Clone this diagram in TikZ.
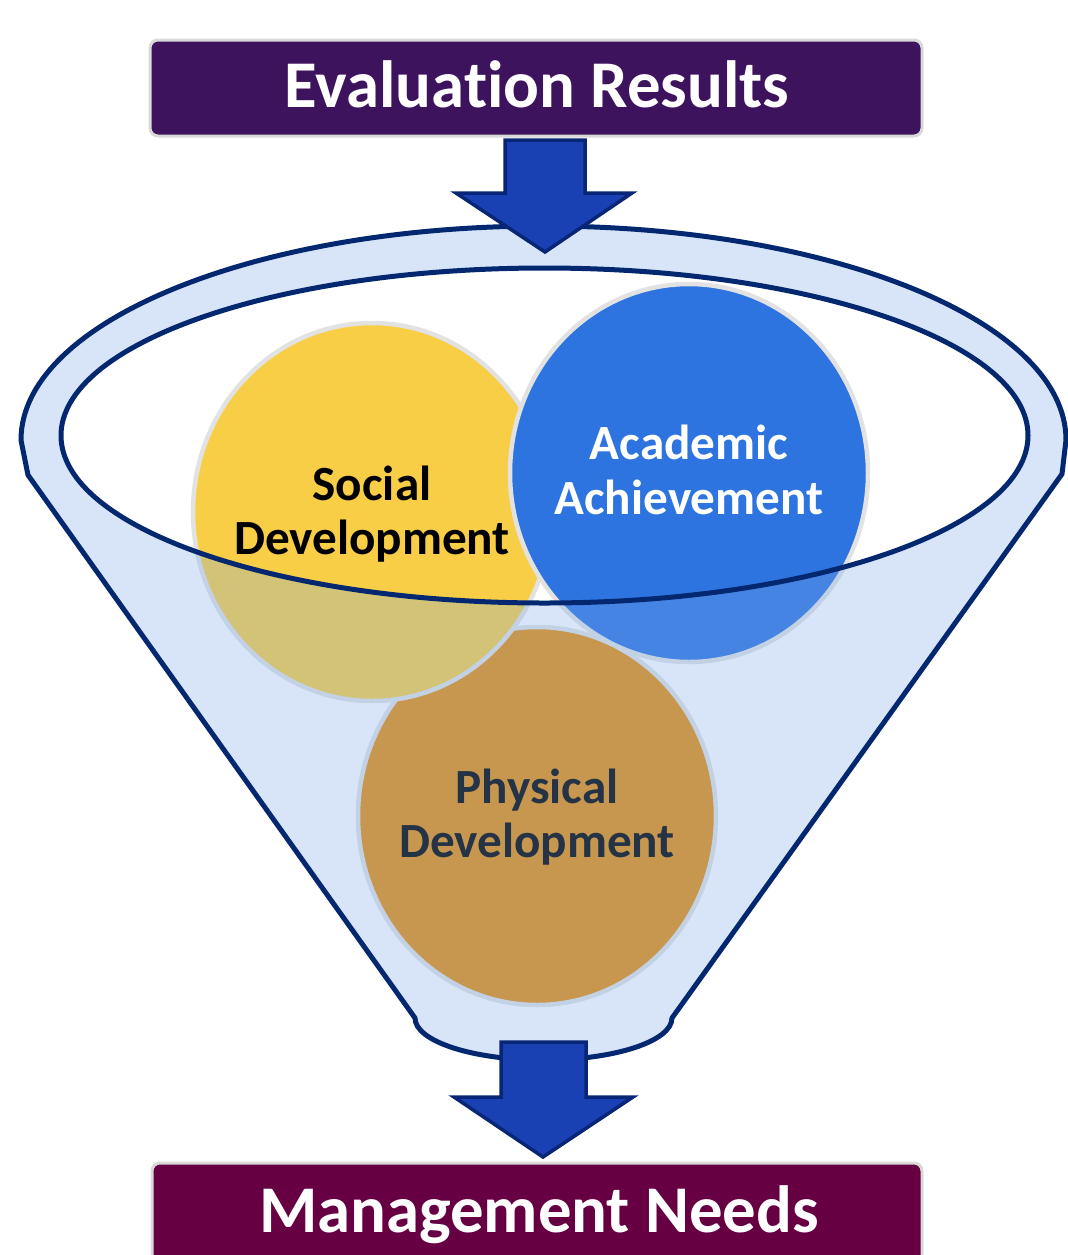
\documentclass[tikz,border=0pt]{standalone}
\usepackage{fontspec}
\setmainfont{Carlito}[Ligatures=NoCommon]
\usepackage{tikz}
\definecolor{resultsPurple}{RGB}{62,19,94}
\definecolor{needsWine}{RGB}{102,0,66}
\definecolor{rimNavy}{RGB}{4,40,112}
\definecolor{arrowBlue}{RGB}{25,65,180}
\definecolor{arrowEdge}{RGB}{8,38,118}
\definecolor{glassBlue}{RGB}{125,170,235}
\definecolor{socialYellow}{RGB}{247,206,70}
\definecolor{academicBlue}{RGB}{45,116,224}
\definecolor{physicalOrange}{RGB}{232,144,12}
\definecolor{bubbleEdge}{RGB}{226,226,226}

\begin{document}
\begin{tikzpicture}[x=0.02cm, y=-0.02cm,
	titlebox/.style={rounded corners=0.16cm, draw=black!15, line width=0.06cm},
	titletext/.style={text=white, font=\bfseries\fontsize{38}{40}\selectfont, anchor=base},
	bubble/.style={draw=bubbleEdge, line width=0.09cm},
	bubbletext/.style={align=center, font=\bfseries\fontsize{28}{31}\selectfont},
	blockarrow/.style={fill=arrowBlue, draw=arrowEdge, line width=0.07cm, line join=miter},
	rim/.style={draw=rimNavy, line width=0.1cm, line join=round}]
	\useasboundingbox (0,0) rectangle (1068,1255);
	\clip (0,0) rectangle (1068,1255);

	% the three bubbles, back to front
	\filldraw[bubble, fill=physicalOrange] (537,816) ellipse [x radius=179, y radius=189];
	\node[bubbletext, text=black] (physical) at (537,817) {Physical\\Development};
	\filldraw[bubble, fill=socialYellow] (372,512) ellipse [x radius=179, y radius=189];
	\node[bubbletext, text=black] (social) at (372,514) {Social\\Development};
	\filldraw[bubble, fill=academicBlue] (689,473) ellipse [x radius=179, y radius=189];
	\node[bubbletext, text=white] (academic) at (689,470) {Academic\\Achievement};

	% funnel glass: body minus the opening
	\fill[glassBlue, opacity=0.3, even odd rule]
		(28,475) -- (21,440) arc [start angle=180, end angle=360, x radius=522.5, y radius=214]
		-- (1062,474) -- (672,1018) arc [start angle=0, end angle=180, x radius=128.5, y radius=42]
		-- cycle
		(544.5,435.5) ellipse [x radius=483.5, y radius=167.5];

	% funnel outline and opening
	\draw[rim]
		(28,475) -- (21,440) arc [start angle=180, end angle=360, x radius=522.5, y radius=214]
		-- (1062,474) -- (672,1018) arc [start angle=0, end angle=180, x radius=128.5, y radius=42]
		-- cycle;
	\draw[rim] (544.5,435.5) ellipse [x radius=483.5, y radius=167.5];

	% arrows in and out
	\draw[blockarrow] (505,140) -- (585,140) -- (585,193) -- (632,193) -- (545,252)
		-- (456,193) -- (505,193) -- cycle;
	\draw[blockarrow] (501,1042) -- (586,1042) -- (586,1097) -- (633,1097) -- (543,1157)
		-- (454,1097) -- (501,1097) -- cycle;

	% top and bottom banners
	\filldraw[titlebox, fill=resultsPurple] (150,40) rectangle (922,136);
	\node[titletext] (results) at (537,107) {Evaluation Results};
	\filldraw[titlebox, fill=needsWine] (152,1163) rectangle (922,1280);
	\node[titletext] (needs) at (539,1232) {Management Needs};
\end{tikzpicture}
\end{document}
